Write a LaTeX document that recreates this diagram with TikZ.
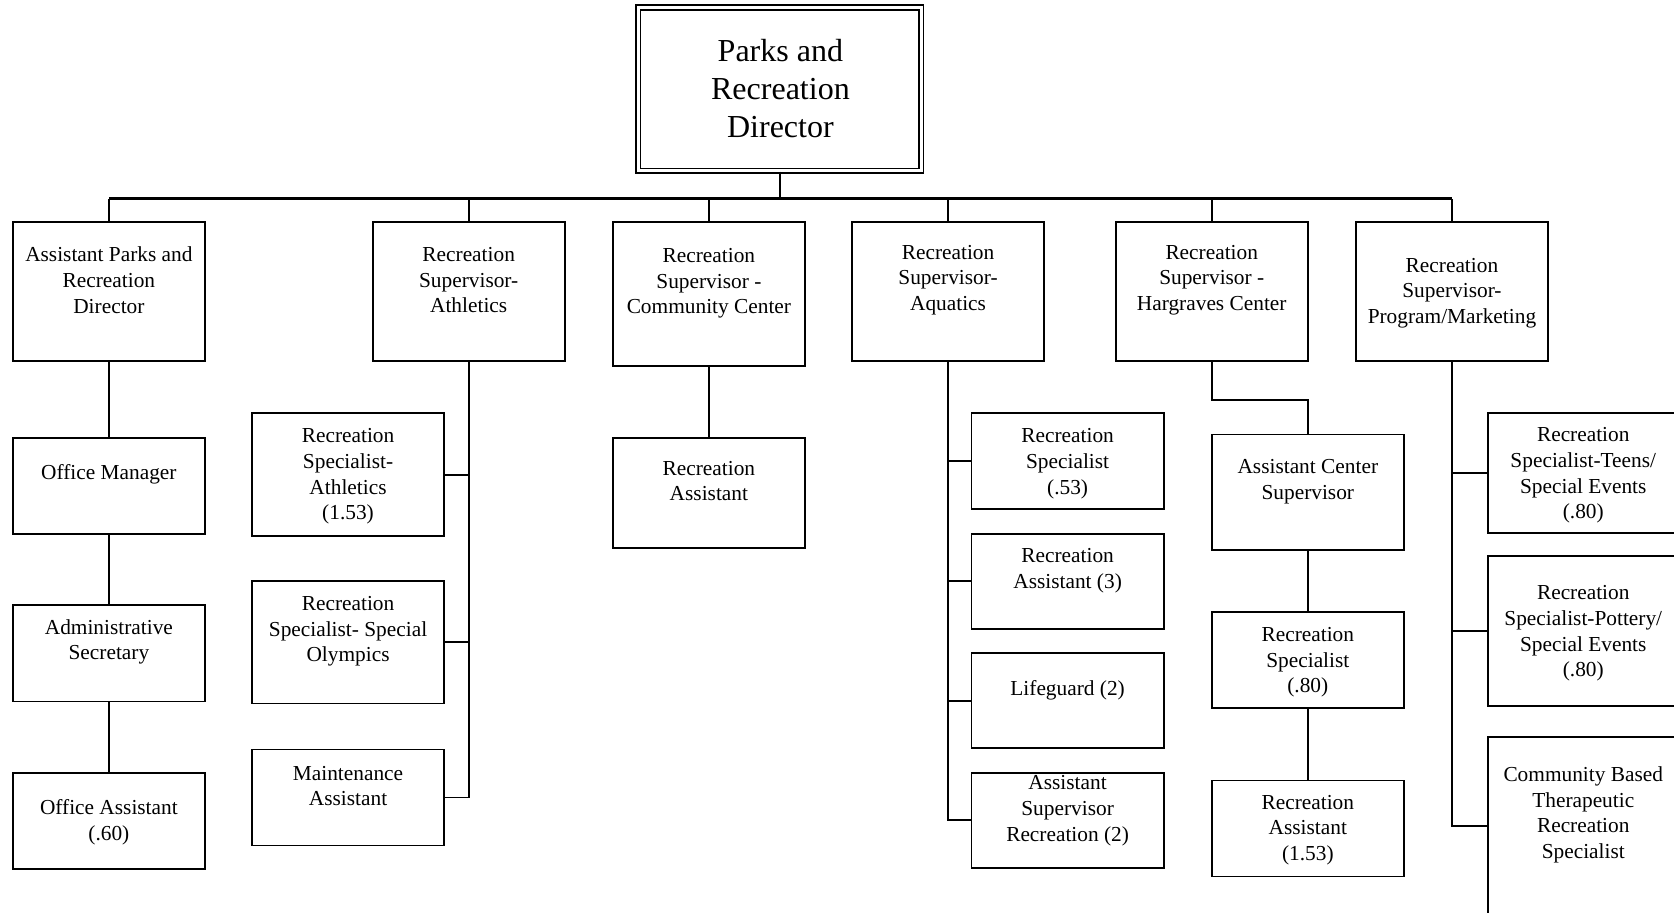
\documentclass[tikz,border=0pt]{standalone}
\usepackage{fontspec}
\setmainfont{Liberation Serif}
\usetikzlibrary{fit}
\begin{document}
\begin{tikzpicture}[x=0.5pt,y=-0.5pt,
  box/.style={draw, line width=0.85pt, inner sep=0pt},
  txt/.style={align=center, font=\fontsize{10}{12}\selectfont, inner sep=0pt, yshift=-1.2pt},
  conn/.style={line width=0.9pt}]
\useasboundingbox (0,0) rectangle (1568,855);

% top
\node[draw, double, double distance=1.25pt, line width=0.8pt, inner sep=0pt, fit={(598,7)(863,160)}] (dir) {};
\node[align=center, inner sep=0pt, font=\fontsize{15}{18}\selectfont] (dirt) at (731,83) {Parks and\\Recreation\\Director};

% row 1
\node[box, fit={(12,208)(192,338)}] (apd) {};
\node[txt] (apdt) at (102,260) {Assistant Parks and\\Recreation\\Director};
\node[box, fit={(349,208)(529,338)}] (ath) {};
\node[txt] (atht) at (439,260) {Recreation\\Supervisor-\\Athletics};
\node[box, fit={(574,208)(754,343)}] (cc) {};
\node[txt] (cct) at (664,263) {Recreation\\Supervisor -\\Community Center};
\node[box, fit={(798,208)(978,338)}] (aq) {};
\node[txt] (aqt) at (888,260) {Recreation\\Supervisor-\\Aquatics};
\node[box, fit={(1045,208)(1225,338)}] (hg) {};
\node[txt] (hgt) at (1135,260) {Recreation\\Supervisor -\\Hargraves Center};
\node[box, fit={(1270,208)(1450,338)}] (prog) {};
\node[txt] (progt) at (1360,272) {Recreation\\Supervisor-\\Program/Marketing};

% column 1
\node[box, fit={(12,410)(192,500)}] (om) {};
\node[txt] (omt) at (102,442) {Office Manager};
\node[box, fit={(12,567)(192,657)}] (as) {};
\node[txt] (ast) at (102,599) {Administrative\\Secretary};
\node[box, fit={(12,724)(192,814)}] (oa) {};
\node[txt] (oat) at (102,768) {Office Assistant\\(.60)};

% athletics
\node[box, fit={(236,387)(416,502)}] (rsa) {};
\node[txt] (rsat) at (326,444) {Recreation\\Specialist-\\Athletics\\(1.53)};
\node[box, fit={(236,544)(416,659)}] (rso) {};
\node[txt] (rsot) at (326,589) {Recreation\\Specialist- Special\\Olympics};
\node[box, fit={(236,702)(416,792)}] (ma) {};
\node[txt] (mat) at (326,734) {Maintenance\\Assistant};

% community center
\node[box, fit={(574,410)(754,513)}] (cra) {};
\node[txt] (crat) at (664,448) {Recreation\\Assistant};

% aquatics
\node[box, fit={(910,387)(1090,477)}] (aqs) {};
\node[txt] (aqst) at (1000,432) {Recreation\\Specialist\\(.53)};
\node[box, fit={(910,500)(1090,589)}] (aqa) {};
\node[txt] (aqat) at (1000,532) {Recreation\\Assistant (3)};
\node[box, fit={(910,612)(1090,701)}] (lg) {};
\node[txt] (lgt) at (1000,644) {Lifeguard (2)};
\node[box, fit={(910,724)(1090,813)}] (asr) {};
\node[txt] (asrt) at (1000,757) {Assistant\\Supervisor\\Recreation (2)};

% hargraves
\node[box, fit={(1135,407)(1315,515)}] (acs) {};
\node[txt] (acst) at (1225,449) {Assistant Center\\Supervisor};
\node[box, fit={(1135,573)(1315,663)}] (hrs) {};
\node[txt] (hrst) at (1225,618) {Recreation\\Specialist\\(.80)};
\node[box, fit={(1135,731)(1315,821)}] (hra) {};
\node[txt] (hrat) at (1225,775) {Recreation\\Assistant\\(1.53)};

% program
\node[box, fit={(1394,387)(1574,499)}] (tn) {};
\node[txt] (tnt) at (1483,443) {Recreation\\Specialist-Teens/\\Special Events\\(.80)};
\node[box, fit={(1394,521)(1574,661)}] (pt) {};
\node[txt] (ptt) at (1483,591) {Recreation\\Specialist-Pottery/\\Special Events\\(.80)};
\node[box, fit={(1394,690)(1574,857)}] (cbt) {};
\node[txt] (cbtt) at (1483,761) {Community Based\\Therapeutic\\Recreation\\Specialist};

% connectors
\coordinate (bus) at (731,186);
\draw[conn] (dir.south) -- (dir.south |- bus);
\draw[line width=1.1pt] (apd.north |- bus) -- (prog.north |- bus);
\foreach \n in {apd,ath,cc,aq,hg,prog} \draw[conn] (\n.north) -- (\n.north |- bus);

\draw[conn] (apd.south) -- (om.north);
\draw[conn] (om.south) -- (as.north);
\draw[conn] (as.south) -- (oa.north);

\draw[conn] (ath.south) -- (ath.south |- ma.east) -- (ma.east);
\draw[conn] (rsa.east) -- (rsa.east -| ath.south);
\draw[conn] (rso.east) -- (rso.east -| ath.south);

\draw[conn] (cc.south) -- (cra.north);

\draw[conn] (aq.south) -- (aq.south |- asr.west) -- (asr.west);
\draw[conn] (aqs.west) -- (aqs.west -| aq.south);
\draw[conn] (aqa.west) -- (aqa.west -| aq.south);
\draw[conn] (lg.west) -- (lg.west -| aq.south);

\draw[conn] (hg.south) -- ++(0,36) -| (acs.north);
\draw[conn] (acs.south) -- (hrs.north);
\draw[conn] (hrs.south) -- (hra.north);

\draw[conn] (prog.south) -- (prog.south |- cbt.west) -- (cbt.west);
\draw[conn] (tn.west) -- (tn.west -| prog.south);
\draw[conn] (pt.west) -- (pt.west -| prog.south);
\end{tikzpicture}
\end{document}
